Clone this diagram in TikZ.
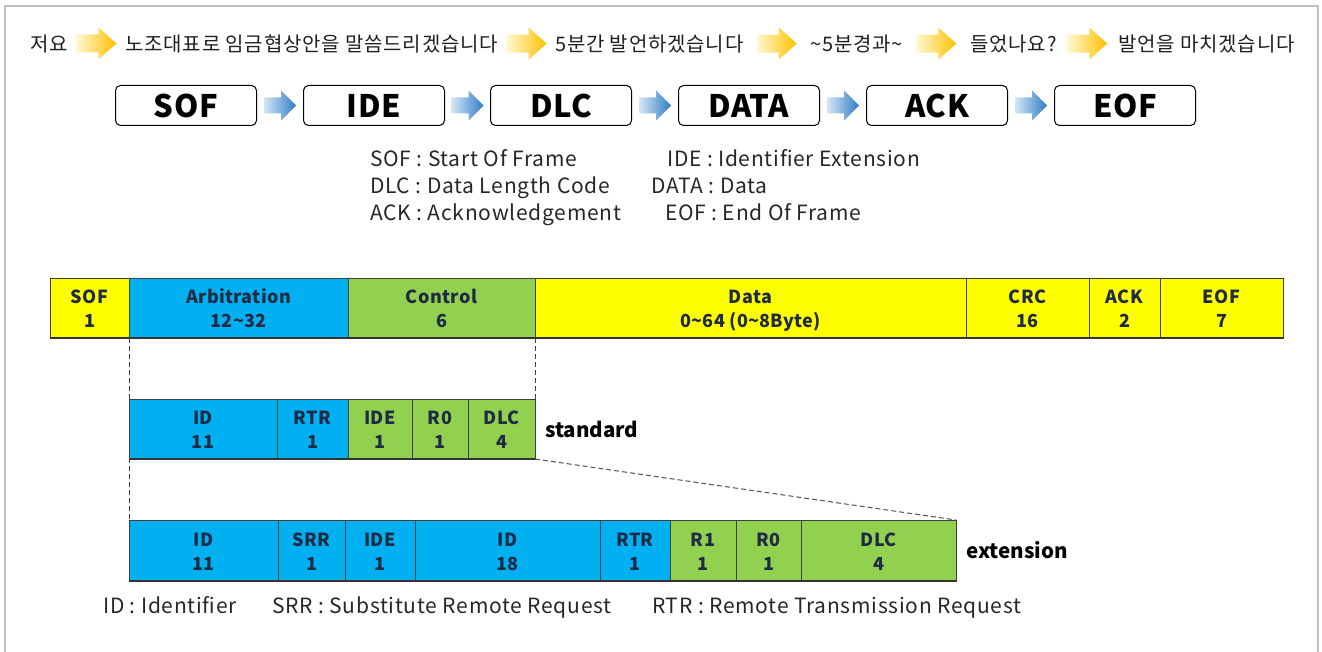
\documentclass[tikz,border=0pt]{standalone}
\usepackage{fontspec}
\setmainfont{Noto Sans CJK KR}
\usetikzlibrary{calc}

\definecolor{cellyellow}{HTML}{FFFF00}
\definecolor{cellblue}{HTML}{00B0F0}
\definecolor{cellgreen}{HTML}{92D050}
\definecolor{celltext}{HTML}{1F2A44}
\definecolor{framegray}{HTML}{BFBFBF}
\definecolor{gold}{HTML}{FFC000}
\definecolor{paleyellow}{HTML}{FFF8D0}
\definecolor{arrowblue}{HTML}{2E7DC6}
\definecolor{paleblue}{HTML}{D5E6F6}

\tikzset{
  korean/.style={anchor=base west, inner sep=0pt,
    font=\addfontfeature{LetterSpace=4}\fontsize{20}{24}\selectfont, text=black!88},
  framebox/.style={draw=black, line width=1pt, rounded corners=5pt, minimum width=141pt,
    minimum height=40pt, anchor=north west, inner sep=0pt,
    font=\addfontfeature{LetterSpace=2}\fontsize{31}{34}\bfseries\selectfont},
  legend/.style={anchor=base west, inner sep=0pt,
    font=\addfontfeature{LetterSpace=3.5}\fontsize{21}{24}\selectfont, text=black!85},
  cell/.style={draw=black!75, line width=0.6pt, anchor=north west, inner sep=0pt, outer sep=0pt},
  celllabel/.style={inner sep=0pt, align=center, text=celltext,
    font=\addfontfeature{LetterSpace=2}\fontsize{18}{24}\bfseries\selectfont},
  rowbase/.style={line width=1.6pt, draw=black!80},
  zoomline/.style={draw=black!75, line width=0.9pt, dash pattern=on 5pt off 3pt},
  tag/.style={anchor=base west, inner sep=0pt, font=\fontsize{20.5}{24}\bfseries\selectfont},
  pics/yarrow/.style={code={
    \shade[left color=paleyellow, right color=gold]
      (-20,-9) -- (2,-9) -- (2,-16) -- (20,0) -- (2,16) -- (2,9) -- (-20,9) -- cycle;}},
  pics/barrow/.style={code={
    \shade[left color=paleblue, right color=arrowblue]
      (-16,-8) -- (1,-8) -- (1,-15) -- (16,0) -- (1,15) -- (1,8) -- (-16,8) -- cycle;}},
}

% one bit field: name, left, top, width, height, fill, name line, size line
\newcommand\fieldcell[8]{%
  \node[cell, fill=#6, minimum width=#4pt, minimum height=#5pt] (#1) at (#2,#3) {};
  \node[celllabel] (#1-txt) at ([yshift=-3pt]#1.center) {\strut#7\\\strut#8};}

\begin{document}
\begin{tikzpicture}[x=1pt,y=-1pt]
\useasboundingbox (0,0) rectangle (1322,652);
\draw[framegray, line width=1.2pt] (5,652) -- (5,6) -- (1318,6) -- (1318,652);

% speech sequence
\node[korean] (k1) at (30,52) {저요};
\node[korean] (k2) at (125,52) {노조대표로 임금협상안을 말씀드리겠습니다};
\node[korean] (k3) at (555,52) {5분간 발언하겠습니다};
\node[korean] (k4) at (810,52) {\textasciitilde5분경과\textasciitilde};
\node[korean] (k5) at (970,52) {들었나요?};
\node[korean] (k6) at (1118,52) {발언을 마치겠습니다};
\foreach \a/\b in {k1/k2,k2/k3,k3/k4,k4/k5,k5/k6}
  \pic at ($(\a.east)!0.5!(\b.west) + (0,-1)$) {yarrow};

% frame sequence
\node[framebox] (bSOF)  at (115,85)  {SOF};
\node[framebox] (bIDE)  at (303,85)  {IDE};
\node[framebox] (bDLC)  at (490,85)  {DLC};
\node[framebox] (bDATA) at (678,85)  {DATA};
\node[framebox] (bACK)  at (866,85)  {ACK};
\node[framebox] (bEOF)  at (1054,85) {EOF};
\foreach \a/\b in {bSOF/bIDE,bIDE/bDLC,bDLC/bDATA,bDATA/bACK,bACK/bEOF}
  \pic at ($(\a.east)!0.5!(\b.west)$) {barrow};

% abbreviations
\node[legend] (l1) at (370,167) {SOF : Start Of Frame};
\node[legend] (l2) at (667,167) {IDE : Identifier Extension};
\node[legend] (l3) at (370,194) {DLC : Data Length Code};
\node[legend] (l4) at (651,194) {DATA : Data};
\node[legend] (l5) at (370,221) {ACK : Acknowledgement};
\node[legend] (l6) at (665,221) {EOF : End Of Frame};

% data frame
\fieldcell{fSOF}{50}{278}{79}{60}{cellyellow}{SOF}{1}
\fieldcell{fArb}{129}{278}{219}{60}{cellblue}{Arbitration}{12\textasciitilde32}
\fieldcell{fCtl}{348}{278}{187}{60}{cellgreen}{Control}{6}
\fieldcell{fData}{535}{278}{431}{60}{cellyellow}{Data}{0\textasciitilde64 (0\textasciitilde8Byte)}
\fieldcell{fCRC}{966}{278}{123}{60}{cellyellow}{CRC}{16}
\fieldcell{fACK}{1089}{278}{71}{60}{cellyellow}{ACK}{2}
\fieldcell{fEOF}{1160}{278}{123}{60}{cellyellow}{EOF}{7}
\draw[rowbase] (fSOF.south west) -- (fEOF.south east);

% standard format
\fieldcell{sID}{129}{399}{148}{60}{cellblue}{ID}{11}
\fieldcell{sRTR}{277}{399}{71}{60}{cellblue}{RTR}{1}
\fieldcell{sIDE}{348}{399}{64}{60}{cellgreen}{IDE}{1}
\fieldcell{sR0}{412}{399}{56}{60}{cellgreen}{R0}{1}
\fieldcell{sDLC}{468}{399}{67}{60}{cellgreen}{DLC}{4}
\draw[rowbase] (sID.south west) -- (sDLC.south east);
\node[tag] (stdtag) at (545,437) {standard};

% extended format
\fieldcell{eID}{129}{520}{149}{61}{cellblue}{ID}{11}
\fieldcell{eSRR}{278}{520}{67}{61}{cellblue}{SRR}{1}
\fieldcell{eIDE}{345}{520}{70}{61}{cellblue}{IDE}{1}
\fieldcell{eIDb}{415}{520}{185}{61}{cellblue}{ID}{18}
\fieldcell{eRTR}{600}{520}{70}{61}{cellblue}{RTR}{1}
\fieldcell{eR1}{670}{520}{66}{61}{cellgreen}{R1}{1}
\fieldcell{eR0}{736}{520}{65}{61}{cellgreen}{R0}{1}
\fieldcell{eDLC}{801}{520}{155}{61}{cellgreen}{DLC}{4}
\draw[rowbase] (eID.south west) -- (eDLC.south east);
\node[tag] (exttag) at (966,558) {extension};

% expansion guides
\draw[zoomline] (fArb.south west) -- (eID.north west);
\draw[zoomline] (fCtl.south east) -- (sDLC.south east);
\draw[zoomline, draw=black!68, line width=1pt] (sDLC.south east) -- (eDLC.north east);

% field names
\node[legend] (m1) at (103,613) {ID : Identifier};
\node[legend] (m2) at (272,613) {SRR : Substitute Remote Request};
\node[legend] (m3) at (652,613) {RTR : Remote Transmission Request};
\end{tikzpicture}
\end{document}
